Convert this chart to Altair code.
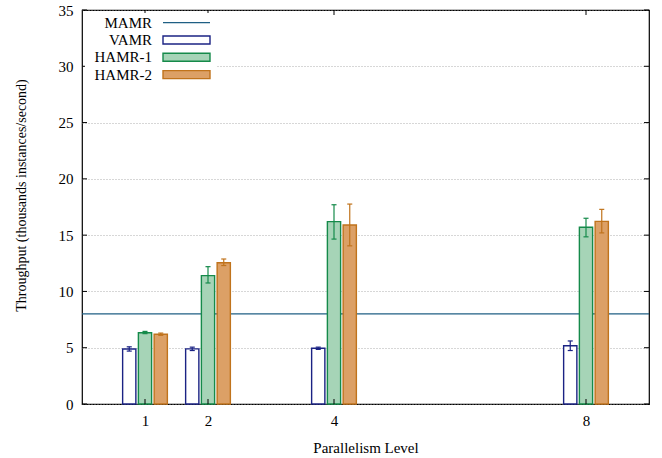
import altair as alt
import pandas as pd

# ---- data ----
levels = [1, 2, 4, 8]
series = ["VAMR", "HAMR-1", "HAMR-2"]
vamr_mean = [4.88, 4.90, 4.95, 5.18]
vamr_lo = [4.70, 4.75, 4.85, 4.75]
vamr_hi = [5.08, 5.05, 5.05, 5.60]
hamr1_mean = [6.33, 11.40, 16.20, 15.70]
hamr1_lo = [6.25, 10.75, 14.65, 14.85]
hamr1_hi = [6.45, 12.20, 17.70, 16.50]
hamr2_mean = [6.20, 12.55, 15.90, 16.22]
hamr2_lo = [6.10, 12.30, 14.05, 15.20]
hamr2_hi = [6.30, 12.88, 17.76, 17.29]
mamr_value = [8.0]
y_ticks = [0, 5, 10, 15, 20, 25, 30, 35]
legend_names = ["MAMR", "VAMR", "HAMR-1", "HAMR-2"]

# ---- styles ----
offsets = {"VAMR": -0.25, "HAMR-1": 0.0, "HAMR-2": 0.25}
strokes = ["#1b2384", "#158a4a", "#c0731c"]
fills = ["#ffffff", "#a6d4b7", "#dca066"]
mamr_color = "#1f5f84"
FONT = "Liberation Serif"
W, H = 567, 394

rows = []
for name, m, lo, hi in [
    ("VAMR", vamr_mean, vamr_lo, vamr_hi),
    ("HAMR-1", hamr1_mean, hamr1_lo, hamr1_hi),
    ("HAMR-2", hamr2_mean, hamr2_lo, hamr2_hi),
]:
    for i, lv in enumerate(levels):
        c = lv + offsets[name]
        rows.append(dict(series=name, level=lv, mean=m[i], lo=lo[i], hi=hi[i],
                         center=c, xl=c - 0.105, xr=c + 0.105,
                         capl=c - 0.04, capr=c + 0.04))
df = pd.DataFrame(rows)

xscale = alt.Scale(domain=[0, 9], nice=False, zero=False)
yscale = alt.Scale(domain=[0, 35], nice=False)
x_axis = alt.Axis(values=levels, title="Parallelism Level", grid=False, domain=False,
                  ticks=False, tickSize=0, labelPadding=9, titlePadding=12, format="d",
                  titleFontSize=15)
y_axis = alt.Axis(values=y_ticks, title="Throughput (thousands instances/second)",
                  grid=True, gridDash=[1, 2], gridColor="#9a9a9a", gridWidth=0.8,
                  domain=False, ticks=False, tickSize=0, labelPadding=9, titlePadding=30,
                  titleFontSize=14, titleY=185)

fill_enc = alt.Fill("series:N", scale=alt.Scale(domain=series, range=fills), legend=None)
stroke_enc = alt.Stroke("series:N", scale=alt.Scale(domain=series, range=strokes), legend=None)

base = alt.Chart(df)

bars = base.mark_rect(strokeWidth=1.4).encode(
    x=alt.X("xl:Q", scale=xscale, axis=x_axis),
    x2="xr:Q",
    y=alt.Y("mean:Q", scale=yscale, axis=y_axis),
    y2=alt.datum(0),
    fill=fill_enc,
    stroke=stroke_enc,
)

err = base.mark_rule(strokeWidth=1.2).encode(
    x=alt.X("center:Q", scale=xscale, axis=x_axis),
    y=alt.Y("lo:Q", scale=yscale, axis=y_axis),
    y2="hi:Q",
    stroke=stroke_enc,
)
cap_hi = base.mark_rule(strokeWidth=1.2).encode(
    x=alt.X("capl:Q", scale=xscale, axis=x_axis),
    x2="capr:Q",
    y=alt.Y("hi:Q", scale=yscale, axis=y_axis),
    stroke=stroke_enc,
)
cap_lo = base.mark_rule(strokeWidth=1.2).encode(
    x=alt.X("capl:Q", scale=xscale, axis=x_axis),
    x2="capr:Q",
    y=alt.Y("lo:Q", scale=yscale, axis=y_axis),
    stroke=stroke_enc,
)

mamr = alt.Chart(pd.DataFrame({"v": mamr_value})).mark_rule(
    color=mamr_color, strokeWidth=1.3).encode(
    x=alt.value(0), x2=alt.value(W),
    y=alt.Y("v:Q", scale=yscale, axis=y_axis),
)

# inward ticks (gnuplot style)
ytick_df = pd.DataFrame({"t": y_ticks})
ytick_l = alt.Chart(ytick_df).mark_rule(color="black", strokeWidth=1).encode(
    x=alt.value(0), x2=alt.value(5), y=alt.Y("t:Q", scale=yscale, axis=y_axis))
ytick_r = alt.Chart(ytick_df).mark_rule(color="black", strokeWidth=1).encode(
    x=alt.value(W - 5), x2=alt.value(W), y=alt.Y("t:Q", scale=yscale, axis=y_axis))
xtick_df = pd.DataFrame({"t": levels})
xtick_t = alt.Chart(xtick_df).mark_rule(color="black", strokeWidth=1).encode(
    x=alt.X("t:Q", scale=xscale, axis=x_axis), y=alt.value(0), y2=alt.value(5))
xtick_b = alt.Chart(xtick_df).mark_rule(color="black", strokeWidth=1).encode(
    x=alt.X("t:Q", scale=xscale, axis=x_axis), y=alt.value(H - 5), y2=alt.value(H))

# custom gnuplot-style key (label left, sample right)
one = pd.DataFrame({"a": [0]})
key_layers = [
    alt.Chart(one).mark_rect(fill="white").encode(
        x=alt.value(3), x2=alt.value(134), y=alt.value(3), y2=alt.value(74))
]
row_y = [12.7, 30.0, 47.3, 64.6]
for i, name in enumerate(legend_names):
    key_layers.append(
        alt.Chart(one).mark_text(align="right", baseline="middle", font=FONT,
                                 fontSize=15, color="black").encode(
            x=alt.value(70), y=alt.value(row_y[i]), text=alt.value(name)))
    if i == 0:
        key_layers.append(
            alt.Chart(one).mark_rule(color=mamr_color, strokeWidth=1.3).encode(
                x=alt.value(81), x2=alt.value(128), y=alt.value(row_y[i])))
    else:
        key_layers.append(
            alt.Chart(one).mark_rect(fill=fills[i - 1], stroke=strokes[i - 1],
                                     strokeWidth=1.4).encode(
                x=alt.value(81), x2=alt.value(128),
                y=alt.value(row_y[i] - 4), y2=alt.value(row_y[i] + 4)))

chart = alt.layer(
    mamr, bars, err, cap_hi, cap_lo, ytick_l, ytick_r, xtick_t, xtick_b, *key_layers
).properties(
    width=W, height=H,
    autosize=alt.AutoSizeParams(type="none"),
    padding={"left": 82, "top": 10, "right": 13, "bottom": 54},
).configure_view(
    stroke="black", strokeWidth=1.2
).configure_axis(
    labelFont=FONT, titleFont=FONT, labelFontSize=15,
    titleFontWeight="normal", labelColor="black", titleColor="black",
)

chart.save("out.html", embed_options={"renderer": "svg", "actions": False})
